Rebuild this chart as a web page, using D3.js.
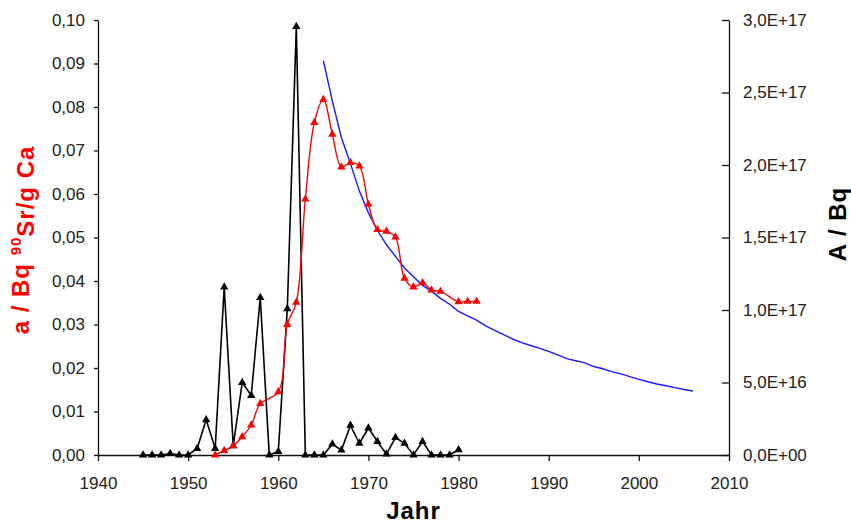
<!DOCTYPE html>
<html>
<head>
<meta charset="utf-8">
<script src="https://cdn.jsdelivr.net/npm/d3@7/dist/d3.min.js"></script>
<style>
  body { margin: 0; background: #fff; }
  svg { display: block; font-family: "Liberation Sans", Arial, sans-serif; }
  .tick text { fill: #222; font-size: 17px; }
  .domain, .tick line { stroke: #111; stroke-width: 1.3; }
  .title { font-size: 24px; font-weight: bold; letter-spacing: 1px; }
</style>
</head>
<body>
<svg id="chart" width="851" height="525"></svg>
<script>
// red series: Sr-90 per g Ca (left axis)
var redYears = [1953, 1954, 1955, 1956, 1957, 1958, 1960, 1961, 1962, 1963, 1964, 1965, 1966, 1967,
  1968, 1969, 1970, 1971, 1972, 1973, 1974, 1975, 1976, 1977, 1978, 1980, 1981, 1982];
var redValues = [0.0000, 0.0010, 0.0021, 0.0042, 0.0069, 0.0118, 0.0145, 0.0300, 0.0351, 0.0588, 0.0764, 0.0817, 0.0737, 0.0662,
  0.0672, 0.0664, 0.0576, 0.0518, 0.0514, 0.0501, 0.0406, 0.0386, 0.0396, 0.0379, 0.0376, 0.0352, 0.0353, 0.0353];

// black series: activity per year (right axis, Bq)
var blackYears = [1945, 1946, 1947, 1948, 1949, 1950, 1951, 1952, 1953, 1954, 1955, 1956, 1957, 1958, 1959, 1960,
  1961, 1962, 1963, 1964, 1965, 1966, 1967, 1968, 1969, 1970, 1971, 1972, 1973, 1974, 1975, 1976, 1977, 1978, 1979, 1980];
var blackValues = [0, 0, 0, 0.01e17, 0, 0, 0.045e17, 0.243e17, 0.045e17, 1.158e17, 0.063e17, 0.50e17, 0.41e17, 1.086e17, 0, 0.024e17,
  1.008e17, 2.955e17, 0, 0, 0, 0.075e17, 0.033e17, 0.204e17, 0.081e17, 0.186e17, 0.093e17, 0.006e17, 0.12e17, 0.081e17, 0, 0.093e17, 0, 0, 0, 0.036e17];

// blue series: inventory (right axis, Bq)
var blueYears = [1965, 1966, 1967, 1968, 1969, 1970, 1971, 1972, 1973, 1974, 1975, 1976, 1977, 1978, 1979, 1980,
  1981, 1982, 1983, 1984, 1985, 1986, 1987, 1988, 1989, 1990, 1991, 1992, 1993, 1994, 1995, 1996, 1997, 1998,
  1999, 2000, 2001, 2002, 2003, 2004, 2005, 2006];
var blueValues = [2.72e17, 2.44e17, 2.19e17, 2.01e17, 1.82e17, 1.67e17, 1.55e17, 1.45e17, 1.37e17, 1.29e17, 1.23e17, 1.17e17, 1.13e17, 1.08e17, 1.04e17, 0.99e17,
  0.96e17, 0.93e17, 0.89e17, 0.86e17, 0.83e17, 0.80e17, 0.775e17, 0.755e17, 0.735e17, 0.715e17, 0.69e17, 0.665e17, 0.65e17, 0.635e17, 0.61e17, 0.595e17, 0.575e17, 0.56e17,
  0.54e17, 0.522e17, 0.505e17, 0.49e17, 0.478e17, 0.465e17, 0.452e17, 0.441e17];

var xTicks = [1940, 1950, 1960, 1970, 1980, 1990, 2000, 2010];
var leftTicks = [0, 0.01, 0.02, 0.03, 0.04, 0.05, 0.06, 0.07, 0.08, 0.09, 0.10];
var rightTicks = [0, 0.5e17, 1e17, 1.5e17, 2e17, 2.5e17, 3e17];

var svg = d3.select('#chart');
var plotLeft = 98, plotRight = 729, plotTop = 20, plotBottom = 455;

var x = d3.scaleLinear().domain([1940, 2010]).range([plotLeft, plotRight]);
var yL = d3.scaleLinear().domain([0, 0.10]).range([plotBottom, plotTop]);
var yR = d3.scaleLinear().domain([0, 3e17]).range([plotBottom, plotTop]);

function fmtLeft(v) { return d3.format('.2f')(v).replace('.', ','); }
function fmtRight(v) {
  var s = d3.format('.1e')(v).replace('.', ',').replace('e', 'E');
  return s.replace(/E([+-])(\d)$/, 'E$10$2');
}

// axes
svg.append('g')
  .attr('transform', 'translate(0,' + plotBottom + ')')
  .call(d3.axisBottom(x).tickValues(xTicks).tickFormat(d3.format('d')).tickSize(6).tickSizeOuter(0).tickPadding(16));

svg.append('g')
  .attr('transform', 'translate(' + plotLeft + ',0)')
  .call(d3.axisLeft(yL).tickValues(leftTicks).tickFormat(fmtLeft).tickSize(4).tickSizeOuter(0).tickPadding(9));

svg.append('g')
  .attr('transform', 'translate(' + plotRight + ',0)')
  .call(d3.axisRight(yR).tickValues(rightTicks).tickFormat(fmtRight).tickSize(-7).tickSizeOuter(0).tickPadding(14));

// lines
var blackPts = blackYears.map(function (d, i) { return [x(d), yR(blackValues[i])]; });
var redPts = redYears.map(function (d, i) { return [x(d), yL(redValues[i])]; });
var bluePts = blueYears.map(function (d, i) { return [x(d), yR(blueValues[i])]; });

svg.append('path')
  .attr('d', d3.line()(blackPts))
  .attr('fill', 'none').attr('stroke', '#000').attr('stroke-width', 1.6);

svg.append('path')
  .attr('d', d3.line()(bluePts))
  .attr('fill', 'none').attr('stroke', '#1a1aff').attr('stroke-width', 1.4);

svg.append('path')
  .attr('d', d3.line().curve(d3.curveCatmullRom.alpha(0.5))(redPts))
  .attr('fill', 'none').attr('stroke', '#ff0000').attr('stroke-width', 1.4);

// markers
var tri = d3.symbol().type(d3.symbolTriangle).size(30);

svg.append('g').selectAll('path')
  .data(blackPts).enter().append('path')
  .attr('d', tri)
  .attr('transform', function (d) { return 'translate(' + d[0] + ',' + d[1] + ')'; })
  .attr('fill', '#000');

svg.append('g').selectAll('path')
  .data(redPts).enter().append('path')
  .attr('d', tri)
  .attr('transform', function (d) { return 'translate(' + d[0] + ',' + d[1] + ')'; })
  .attr('fill', '#ff0000');

// titles
svg.append('text')
  .attr('class', 'title')
  .attr('x', (plotLeft + plotRight) / 2).attr('y', 519)
  .attr('text-anchor', 'middle')
  .text('Jahr');

var lt = svg.append('text')
  .attr('class', 'title')
  .attr('transform', 'translate(29,240) rotate(-90)')
  .attr('text-anchor', 'middle')
  .attr('fill', '#ff0000');
lt.append('tspan').text('a / Bq ');
lt.append('tspan').attr('dy', '-0.55em').style('font-size', '15px').text('90');
lt.append('tspan').attr('dy', '0.55em').text('Sr/g Ca');

svg.append('text')
  .attr('class', 'title')
  .attr('transform', 'translate(846,224) rotate(-90)')
  .attr('text-anchor', 'middle')
  .text('A / Bq');
</script>
</body>
</html>
